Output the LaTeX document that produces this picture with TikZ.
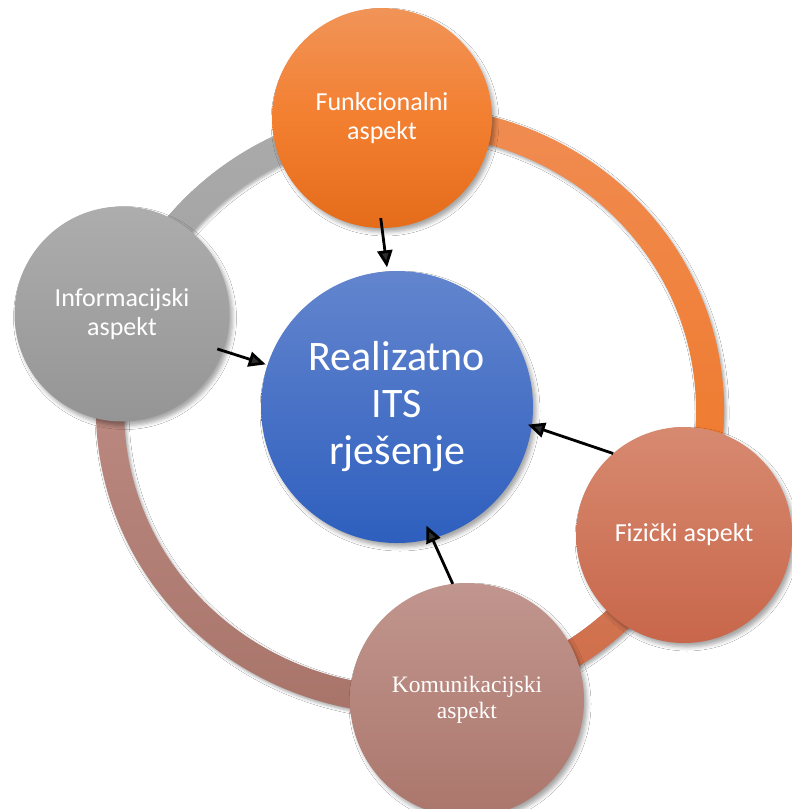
\documentclass[tikz,border=0pt]{standalone}
\usepackage{fontspec}
\setmainfont{Carlito}
\newfontfamily\timesfont{Liberation Serif}
\usetikzlibrary{calc,arrows.meta,shadows.blur}

\definecolor{funkT}{HTML}{F19458}
\definecolor{funkM}{HTML}{F37F30}
\definecolor{funkB}{HTML}{E46C1B}
\definecolor{infT}{HTML}{ADADAD}
\definecolor{infB}{HTML}{959595}
\definecolor{ctrT}{HTML}{6385CE}
\definecolor{ctrB}{HTML}{2E5FBE}
\definecolor{fizT}{HTML}{D78A70}
\definecolor{fizB}{HTML}{C8664A}
\definecolor{komT}{HTML}{C1968E}
\definecolor{komB}{HTML}{AB766C}
\definecolor{rgGrayT}{HTML}{ABABAB}
\definecolor{rgGrayB}{HTML}{A2A2A2}
\definecolor{rgOrT}{HTML}{F08C52}
\definecolor{rgOrB}{HTML}{EF7727}
\definecolor{rgFizT}{HTML}{D57A58}
\definecolor{rgFizB}{HTML}{CE6C48}
\definecolor{rgKomT}{HTML}{C08E86}
\definecolor{rgKomB}{HTML}{A8746A}

\newcommand\ringband[4]{%
  \shade[top color=#3,bottom color=#4,
    blur shadow={shadow xshift=2pt,shadow yshift=-2.5pt,shadow blur radius=3pt,shadow opacity=35}]
    ($(rc)+(#1:314pt and 304pt)$) arc[start angle=#1,end angle=#2,x radius=314pt,y radius=304pt]
    -- ($(rc)+(#2:286pt and 276pt)$) arc[start angle=#2,end angle=#1,x radius=286pt,y radius=276pt]
    -- cycle;}

\tikzset{
  bubble/.style={circle,inner sep=0pt,outer sep=0pt,text=white,align=center,
    blur shadow={shadow xshift=3pt,shadow yshift=-4pt,shadow blur radius=4pt,shadow opacity=35}},
  smalltxt/.style={font=\fontsize{26}{28.5}\selectfont},
  arr/.style={line width=2.8pt,-{Triangle[length=17pt,width=15pt]}}
}

\begin{document}
\begin{tikzpicture}[x=1pt,y=1pt]
\useasboundingbox (0,0) rectangle (792,-809);
\clip (0,0) rectangle (792,-809);
\fill[white] (0,0) rectangle (792,-809);
\coordinate (rc) at (410,-410);

\ringband{95}{162}{rgGrayT}{rgGrayB}
\ringband{-25}{95}{rgOrT}{rgOrB}
\ringband{-79}{-25}{rgFizT}{rgFizB}
\ringband{162}{281}{rgKomT}{rgKomB}

\node[bubble,smalltxt,minimum size=220pt,top color=funkT,bottom color=funkB,middle color=funkM]
  (funk) at (382,-118) {Funkcionalni\\aspekt};
\node[bubble,smalltxt,minimum size=215pt,top color=infT,bottom color=infB]
  (inf) at (122,-314) {Informacijski\\aspekt};
\node[bubble,font=\fontsize{42}{47}\selectfont,minimum size=272pt,top color=ctrT,bottom color=ctrB]
  (ctr) at (397,-407) {Realizatno\\ITS\\rješenje};
\node[bubble,smalltxt,minimum size=216pt,top color=fizT,bottom color=fizB]
  (fiz) at (684,-535) {Fizički aspekt};
\node[bubble,font=\timesfont\fontsize{23.5}{25.5}\selectfont,minimum size=234pt,top color=komT,bottom color=komB]
  (kom) at (467,-700) {Komunikacijski\\aspekt};

\draw[arr,shorten <=-10pt,shorten >=4pt] (funk.-90) -- (ctr.94);
\draw[arr,shorten <=-6pt,shorten >=2pt] (inf.-20) -- (ctr.162);
\draw[arr,shorten >=-4pt] (fiz.131) -- (ctr.-8);
\draw[arr,shorten >=-14pt] (kom.97) -- (ctr.-75);
\end{tikzpicture}
\end{document}
